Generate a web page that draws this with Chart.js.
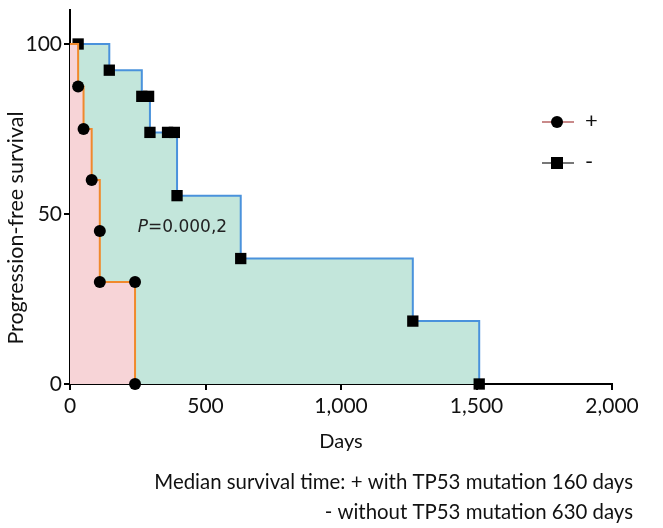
<!DOCTYPE html>
<html>
<head>
<meta charset="utf-8">
<script src="https://cdn.jsdelivr.net/npm/chart.js@4"></script>
<style>
  html, body { margin: 0; padding: 0; background: #fff; }
  #wrap { width: 663px; height: 528px; }
</style>
</head>
<body>
<div id="wrap"><canvas id="km-chart"></canvas></div>
<script>
// Kaplan-Meier steps (days, % progression-free)
const mutDays = [0, 30, 50, 80, 110, 110, 240, 240];
const mutSurv = [100, 87.5, 75, 60, 45, 30, 30, 0];
const wtDays = [0, 30, 145, 265, 290, 295, 360, 385, 395, 630, 1265, 1510];
const wtSurv = [100, 100, 92.3, 84.6, 84.6, 74, 74, 74, 55.4, 36.9, 18.5, 0];

const seriesLabels = ['+', '-'];
const xTicks = [0, 500, 1000, 1500, 2000];
const yTicks = [0, 50, 100];
const yTitle = 'Progression-free survival';
const pValueText = ['P', '=0.000,2'];
const noteLines = [
    'Median survival time: + with TP53 mutation 160 days',
    '- without TP53 mutation 630 days'
];

const FONT = 'Lato, "Open Sans", sans-serif';
const TEXT = '#111';

const toPoints = (xs, ys) => xs.map((x, i) => ({ x, y: ys[i] }));

// legend, p-value, y title and footnote are placed by hand like in the original figure
const extrasPlugin = {
    id: 'extras',
    afterDraw(chart) {
        const ctx = chart.ctx;
        const xs = chart.scales.x;
        const ys = chart.scales.y;
        ctx.save();

        // y axis title (sits a bit below the middle in the original)
        ctx.save();
        ctx.translate(16, 228);
        ctx.rotate(-Math.PI / 2);
        ctx.font = '21.5px ' + FONT;
        ctx.fillStyle = TEXT;
        ctx.textAlign = 'center';
        ctx.textBaseline = 'middle';
        ctx.fillText(yTitle, 0, 0);
        ctx.restore();

        // p value, italic P
        ctx.textBaseline = 'middle';
        ctx.fillStyle = '#222';
        let px = xs.getPixelForValue(250);
        const py = ys.getPixelForValue(46);
        ctx.font = 'italic 17px "DejaVu Sans", sans-serif';
        ctx.fillText(pValueText[0], px, py);
        px += ctx.measureText(pValueText[0]).width;
        ctx.font = '17px "DejaVu Sans", sans-serif';
        ctx.fillText(pValueText[1], px, py);

        // legend
        chart.data.datasets.forEach((ds, i) => {
            const cx = 557;
            const cy = 122 + i * 41;
            ctx.strokeStyle = i === 0 ? '#c98a8a' : '#777';
            ctx.lineWidth = 2;
            ctx.beginPath();
            ctx.moveTo(542, cy);
            ctx.lineTo(574, cy);
            ctx.stroke();
            ctx.fillStyle = '#000';
            ctx.beginPath();
            if (ds.pointStyle === 'rect') {
                ctx.rect(cx - 6, cy - 6, 12, 12);
            } else {
                ctx.arc(cx, cy, 6, 0, Math.PI * 2);
            }
            ctx.fill();
            ctx.fillStyle = TEXT;
            ctx.font = '22px ' + FONT;
            ctx.textAlign = 'left';
            ctx.fillText(ds.label, 585, cy - 1);
        });

        // footnote
        ctx.font = '20.4px ' + FONT;
        ctx.fillStyle = TEXT;
        ctx.textAlign = 'right';
        noteLines.forEach((t, i) => ctx.fillText(t, 633, 482 + i * 30));
        ctx.restore();
    }
};

const ctx = document.getElementById('km-chart').getContext('2d');

new Chart(ctx, {
    type: 'line',
    data: {
        datasets: [{
            label: seriesLabels[0],
            data: toPoints(mutDays, mutSurv),
            borderColor: '#f0892c',
            backgroundColor: '#f7d4d7',
            borderWidth: 2,
            fill: 'origin',
            stepped: true,
            pointStyle: 'circle',
            pointRadius: c => c.dataIndex === 0 ? 0 : 6,
            pointBackgroundColor: '#000',
            pointBorderColor: '#000',
            pointBorderWidth: 0,
            clip: false
        }, {
            label: seriesLabels[1],
            data: toPoints(wtDays, wtSurv),
            borderColor: '#4a92dc',
            backgroundColor: '#c3e6db',
            borderWidth: 2,
            fill: 'origin',
            stepped: true,
            pointStyle: 'rect',
            pointRadius: c => c.dataIndex === 0 ? 0 : 8,
            pointBackgroundColor: '#000',
            pointBorderColor: '#000',
            pointBorderWidth: 0,
            clip: false
        }]
    },
    options: {
        responsive: true,
        maintainAspectRatio: false,
        animation: false,
        layout: {
            padding: { top: 10, right: 51, bottom: 69, left: 0 }
        },
        scales: {
            x: {
                type: 'linear',
                min: 0,
                max: 2000,
                afterBuildTicks: axis => { axis.ticks = xTicks.map(v => ({ value: v })); },
                afterFit: axis => { axis.height = 75; },
                border: { color: '#000', width: 2 },
                grid: { drawOnChartArea: false, drawTicks: true, tickLength: 6, color: '#000', lineWidth: 2 },
                ticks: {
                    padding: 4,
                    color: TEXT,
                    font: { family: FONT, size: 21 },
                    callback: v => v.toLocaleString('en-US')
                },
                title: {
                    display: true,
                    text: 'Days',
                    color: TEXT,
                    font: { family: FONT, size: 20 },
                    padding: { top: 4, bottom: 5 }
                }
            },
            y: {
                min: 0,
                max: 110,
                afterBuildTicks: axis => { axis.ticks = yTicks.map(v => ({ value: v })); },
                afterFit: axis => {
                    axis.width = 70;
                    axis.paddingTop = 0;
                    axis.paddingBottom = 0;
                },
                border: { color: '#000', width: 2 },
                grid: { drawOnChartArea: false, drawTicks: true, tickLength: 6, color: '#000', lineWidth: 2 },
                ticks: {
                    padding: 2,
                    color: TEXT,
                    font: { family: FONT, size: 21 }
                }
            }
        },
        plugins: {
            legend: { display: false },
            tooltip: { enabled: false }
        }
    },
    plugins: [extrasPlugin]
});
</script>
</body>
</html>
